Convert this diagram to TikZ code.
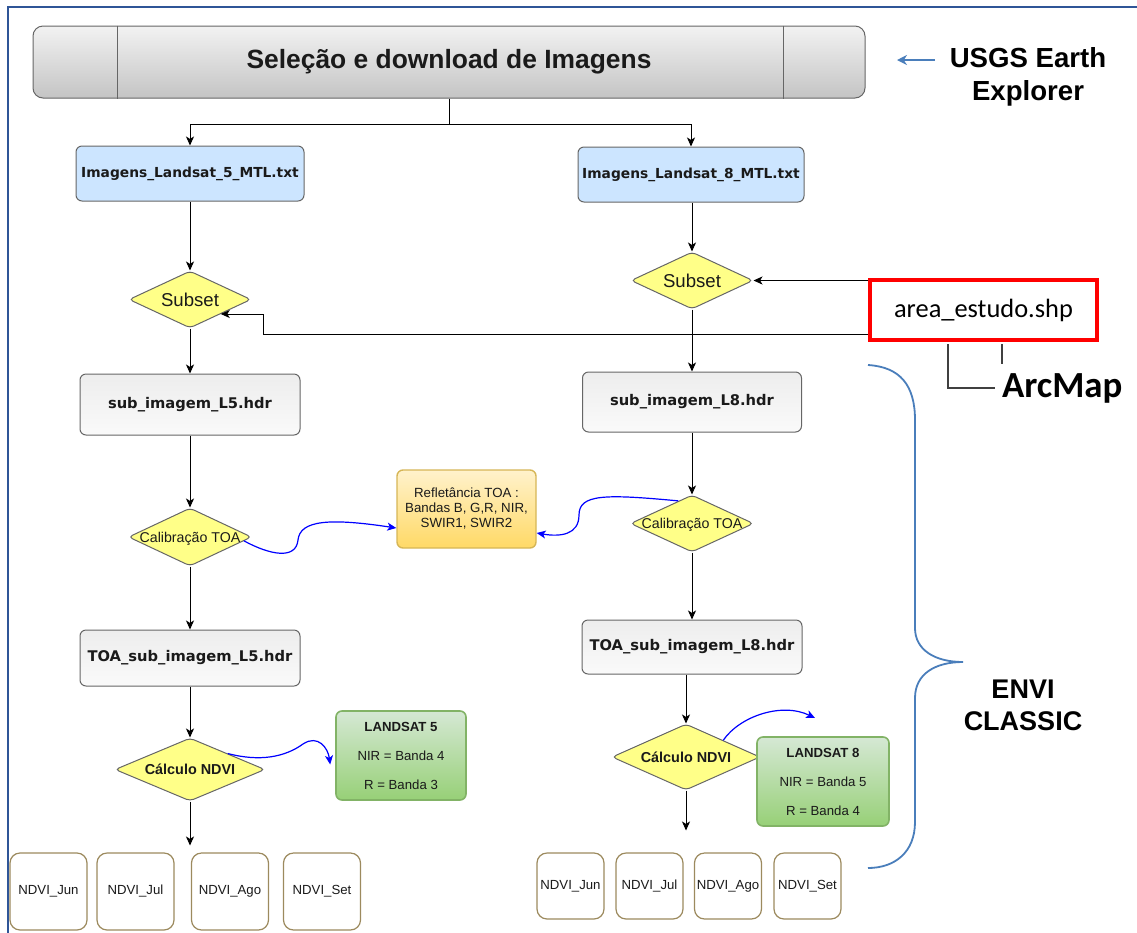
\documentclass[tikz,border=0pt]{standalone}
\usepackage{fontspec}
\setmainfont{Liberation Sans}
\newfontfamily\verd{DejaVu Sans}
\newfontfamily\calib{Carlito}
\usetikzlibrary{arrows.meta,shapes.geometric,calc}

\definecolor{frameblue}{HTML}{2F5597}
\definecolor{bracecol}{HTML}{4A7EBB}
\definecolor{edgegray}{HTML}{666666}
\definecolor{mtlblue}{HTML}{CCE5FF}
\definecolor{diayellow}{HTML}{FFFF88}
\definecolor{hdrtop}{HTML}{EDEDED}
\definecolor{hdrbot}{HTML}{FAFAFA}
\definecolor{bartop}{HTML}{F2F2F2}
\definecolor{barbot}{HTML}{C4C4C4}
\definecolor{orgtop}{HTML}{FFF2CC}
\definecolor{orgbot}{HTML}{FFD966}
\definecolor{orgedge}{HTML}{D6B656}
\definecolor{grntop}{HTML}{D5E8D4}
\definecolor{grnbot}{HTML}{97D077}
\definecolor{grnedge}{HTML}{82B366}
\definecolor{ndviedge}{HTML}{9C8A5E}
\definecolor{txt}{HTML}{1A1A1A}

% text inside a diamond takes no room, so the shape keeps its own size
\newcommand\dtxt[1]{\makebox[0pt]{\raisebox{-0.36em}[0pt][0pt]{#1}}}

\begin{document}
\begin{tikzpicture}[x=0.5pt,y=-0.5pt,
  text=txt,
  arr/.style={draw=black, line width=0.5pt,
    -{Stealth[length=4.5pt,width=4pt,inset=1.2pt]}},
  bluearr/.style={draw=blue, line width=0.6pt,
    -{Stealth[length=4.5pt,width=4pt,inset=1.2pt]}},
  box/.style={rounded corners=3pt, draw=edgegray, line width=0.5pt, inner sep=0pt},
  bar/.style={box, rounded corners=5pt, top color=bartop, bottom color=barbot,
    font=\bfseries\fontsize{13.2}{15}\selectfont},
  mtl/.style={box, fill=mtlblue, font=\verd\bfseries\fontsize{6.9}{8}\selectfont},
  hdr/.style={box, top color=hdrtop, bottom color=hdrbot,
    font=\verd\bfseries\fontsize{7.35}{9}\selectfont},
  dia/.style={diamond, draw=edgegray, line width=0.5pt, fill=diayellow,
    inner sep=0pt, rounded corners=2pt},
  refl/.style={box, draw=orgedge, line width=0.7pt, top color=orgtop, bottom color=orgbot,
    align=center, font=\fontsize{6.65}{7.5}\selectfont},
  band/.style={box, draw=grnedge, line width=0.8pt, top color=grntop, bottom color=grnbot,
    align=center, font=\fontsize{6.6}{14.5}\selectfont},
  ndvi/.style={rounded corners=5pt, draw=ndviedge, line width=0.6pt, fill=white,
    inner sep=0pt, font=\fontsize{6.6}{8}\selectfont},
  gline/.style={draw=black!75, line width=0.6pt},
  big/.style={align=center, text=black, font=\bfseries\fontsize{13.8}{16.5}\selectfont}
]
\useasboundingbox (0,0) rectangle (1137,933);

% outer frame
\draw[frameblue, line width=1pt] (8,933) -- (8,7) -- (1137,7);

% header bar
\node[bar, minimum width=416pt, minimum height=36pt] (bar) at (449,62)
  {Seleção e download de Imagens};
\draw[edgegray, line width=0.5pt] ([xshift=42.5pt]bar.north west) -- ([xshift=42.5pt]bar.south west);
\draw[edgegray, line width=0.5pt] ([xshift=-41pt]bar.north east) -- ([xshift=-41pt]bar.south east);

% data source
\node[big] (usgs) at (1028,77) {USGS Earth\\Explorer};
\coordinate (usgsTail) at (935,60);
\coordinate (usgsTip) at (897,60);
\draw[draw=bracecol, line width=1pt, -{Stealth[length=5pt,width=5pt]}] (usgsTail) -- (usgsTip);

% metadata files
\node[mtl, minimum width=114pt, minimum height=27.5pt] (mtl5) at (190,173.5) {Imagens\_Landsat\_5\_MTL.txt};
\node[mtl, minimum width=113pt, minimum height=27.5pt] (mtl8) at (691,174.5) {Imagens\_Landsat\_8\_MTL.txt};
\draw[arr] (bar.south) -- ++(0,26) -| (mtl5.north);
\draw[arr] (bar.south) -- ++(0,26) -| (mtl8.north);

% subset step
\node[dia, minimum width=61pt, minimum height=28.5pt, font=\fontsize{9.3}{11}\selectfont] (sub5) at (190,299.5) {\dtxt{Subset}};
\node[dia, minimum width=61pt, minimum height=28.5pt, font=\fontsize{9.3}{11}\selectfont] (sub8) at (692,280.5) {\dtxt{Subset}};
\draw[arr] (mtl5.south) -- (sub5.north);
\draw[arr] (mtl8.south -| sub8.north) -- (sub8.north);

% study area
\node[draw=red, line width=2pt, fill=white, minimum width=113.5pt, minimum height=30pt,
  inner sep=0pt, font=\calib\fontsize{13.2}{15}\selectfont, text=black] (area) at (983.5,310) {area\_estudo.shp};
\draw[arr] (area.west |- sub8.east) -- (sub8.east);
\draw[arr] ([yshift=4pt]area.south west) -- ++(-605,0) |- (sub5.south east);

\node[anchor=west, text=black, font=\calib\bfseries\fontsize{18.4}{20}\selectfont] (arcmap) at (995,388) {ArcMap};
\draw[gline] ([xshift=40pt,yshift=-1pt]area.south west) |- (arcmap.west);
\draw[gline] ([xshift=67pt,yshift=-1pt]area.south west) -- ++(0,20);

% subset images
\node[hdr, minimum width=110pt, minimum height=30.5pt] (img5) at (190,404.5) {sub\_imagem\_L5.hdr};
\node[hdr, minimum width=109.5pt, minimum height=30pt] (img8) at (692,402) {sub\_imagem\_L8.hdr};
\draw[arr] (sub5.south) -- (img5.north);
\draw[arr] (sub8.south) -- (img8.north);

% TOA calibration
\node[dia, minimum width=61.5pt, minimum height=29pt, font=\fontsize{7.1}{9}\selectfont] (cal5) at (190,537) {\dtxt{Calibração TOA}};
\node[dia, minimum width=61.5pt, minimum height=28.5pt, font=\fontsize{7.1}{9}\selectfont] (cal8) at (692,523.5) {\dtxt{Calibração TOA}};
\draw[arr] (img5.south) -- (cal5.north);
\draw[arr] (img8.south) -- (cal8.north);

\node[refl, minimum width=69.5pt, minimum height=39pt] (refl) at (466.5,509)
  {Refletância TOA :\\Bandas B, G,R, NIR,\\SWIR1, SWIR2};
\draw[bluearr] ($(cal5.east)!0.13!(cal5.south)$)
  .. controls (270,555) and (296,560) .. (298,540)
  .. controls (300,520) and (330,518) .. ([yshift=-9.5pt]refl.west);
\draw[bluearr] ($(cal8.north)!0.22!(cal8.west)$)
  .. controls (605,494) and (579,494) .. (579,515)
  .. controls (579,535) and (560,537) .. ([yshift=-12pt]refl.east);

% calibrated images
\node[hdr, minimum width=110pt, minimum height=28pt] (toa5) at (190,658) {TOA\_sub\_imagem\_L5.hdr};
\node[hdr, minimum width=110pt, minimum height=27pt] (toa8) at (692,647) {TOA\_sub\_imagem\_L8.hdr};
\draw[arr] (cal5.south) -- (toa5.north);
\draw[arr] (cal8.south) -- (toa8.north);

% NDVI computation
\node[dia, minimum width=75pt, minimum height=31.5pt, font=\bfseries\fontsize{7.2}{9}\selectfont] (ndvi5) at (190,769.5) {\dtxt{Cálculo NDVI}};
\node[dia, minimum width=74pt, minimum height=33pt, font=\bfseries\fontsize{7.2}{9}\selectfont] (ndvi8) at (686,757) {\dtxt{Cálculo NDVI}};
\draw[arr] (toa5.south) -- (ndvi5.north);
\draw[arr] (toa8.south -| ndvi8.north) -- (ndvi8.north);
\draw[arr] (ndvi5.south) -- ++(0,44);
\draw[arr] (ndvi8.south) -- ++(0,40);

\node[band, minimum width=65pt, minimum height=44.5pt] (ls5) at (401,755.5)
  {\textbf{LANDSAT 5}\\NIR = Banda 4\\R = Banda 3};
\draw[bluearr] (ndvi5.north east)
  .. controls (260,762) and (285,757) .. (303,744)
  .. controls (318,734) and (328,748) .. ([shift={(-5,9)}]ls5.west);

\coordinate (ndvi8Tip) at (815,718);
\draw[bluearr] (ndvi8.north east) .. controls (740,716) and (782,702) .. (ndvi8Tip);
\node[band, minimum width=66pt, minimum height=44.5pt] (ls8) at (823,781.5)
  {\textbf{LANDSAT 8}\\NIR = Banda 5\\R = Banda 4};

% monthly NDVI results
\node[ndvi, minimum width=38.5pt, minimum height=38.5pt] (jun5) at (48.5,891.5) {NDVI\_Jun};
\node[ndvi, minimum width=38.5pt, minimum height=38.5pt] (jul5) at (135.5,891.5) {NDVI\_Jul};
\node[ndvi, minimum width=38.5pt, minimum height=38.5pt] (ago5) at (230,891.5) {NDVI\_Ago};
\node[ndvi, minimum width=38.5pt, minimum height=38.5pt] (set5) at (322,891.5) {NDVI\_Set};
\node[ndvi, minimum width=33.5pt, minimum height=33pt] (jun8) at (570.5,886) {NDVI\_Jun};
\node[ndvi, minimum width=33.5pt, minimum height=33pt] (jul8) at (649.5,886) {NDVI\_Jul};
\node[ndvi, minimum width=33.5pt, minimum height=33pt] (ago8) at (728,886) {NDVI\_Ago};
\node[ndvi, minimum width=33.5pt, minimum height=33pt] (set8) at (807.5,886) {NDVI\_Set};

% processing software
\draw[bracecol, line width=0.9pt] (868,365)
  .. controls (900,367) and (915,385) .. (915,420) -- (915,628)
  .. controls (915,650) and (935,662) .. (963,662)
  .. controls (935,662) and (915,674) .. (915,698) -- (915,822)
  .. controls (915,852) and (895,868) .. (868,868);
\node[big, font=\bfseries\fontsize{13.5}{16}\selectfont] (envi) at (1023,705) {ENVI\\CLASSIC};
\end{tikzpicture}
\end{document}
